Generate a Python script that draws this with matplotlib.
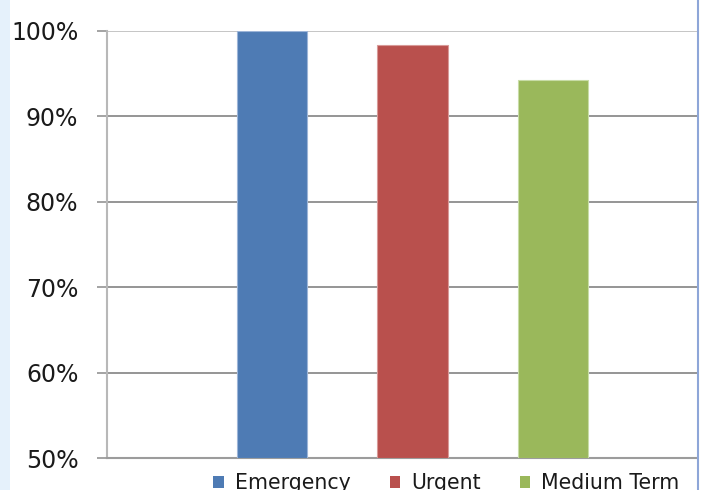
import matplotlib
matplotlib.use("Agg")
import matplotlib.pyplot as plt
from matplotlib.patches import Rectangle, Patch
from matplotlib.lines import Line2D
from matplotlib.ticker import FuncFormatter

series = ["Emergency", "Urgent", "Medium Term"]
values = [100.0, 98.4, 94.3]
colors = ["#4E7BB4", "#B9504D", "#9AB85B"]
edge_colors = ["#9DB5D8", "#D89A98", "#C8DCA6"]
yticks = [50, 60, 70, 80, 90, 100]

W, H = 704, 490
fig = plt.figure(figsize=(W / 100, H / 100), dpi=100)

# left light-blue strip of the page
fig.patches.append(Rectangle((0, 0), 10 / W, 1, transform=fig.transFigure,
                             facecolor="#E5F1FB", edgecolor="none", zorder=0))
# right blue frame line
fig.lines.append(Line2D([698 / W, 698 / W], [0, 1], transform=fig.transFigure,
                        color="#8EA6D8", lw=1.5))

left, right, top, bottom = 107, 697, 31, 458
ax = fig.add_axes([left / W, (H - bottom) / H, (right - left) / W, (bottom - top) / H])

centers = [0, 1, 2]
for x, v, c, ec, name in zip(centers, values, colors, edge_colors, series):
    ax.bar(x, v - 50, bottom=50, width=0.5, color=c, edgecolor=ec, linewidth=0.8,
           label=name, zorder=3)

px_per_unit = 140.5
ax.set_xlim((left - 272) / px_per_unit, (right - 272) / px_per_unit)
ax.set_ylim(50, 100)
ax.set_yticks(yticks)
ax.yaxis.set_major_formatter(FuncFormatter(lambda v, p: f"{int(v)}%"))
ax.set_xticks([])
ax.yaxis.grid(True, color="#8C8C8C", lw=1.3, zorder=0)
ax.set_axisbelow(True)

for s in ["top", "right"]:
    ax.spines[s].set_visible(False)
ax.spines["left"].set_color("#B8B8B8")
ax.spines["left"].set_linewidth(1.5)
ax.spines["bottom"].set_color("#9C9C9C")
ax.spines["bottom"].set_linewidth(1.5)
ax.tick_params(axis="y", length=7.2, width=1.3, color="#9C9C9C", pad=13.5,
               labelsize=17, labelcolor="#1A1A1A")
# top gridline lighter
ax.get_ygridlines()[-1].set_color("#C0C0C0")

handles = [Patch(facecolor=c, edgecolor="none") for c in colors]
fig.legend(handles, series, loc="center", bbox_to_anchor=(446.5 / W, 7 / H),
           ncol=3, frameon=False, fontsize=14.8, handlelength=0.5, handleheight=0.5,
           handletextpad=0.55, columnspacing=1.9, borderpad=0, labelcolor="#1A1A1A")

fig.savefig("out.png", dpi=100, facecolor="white")
